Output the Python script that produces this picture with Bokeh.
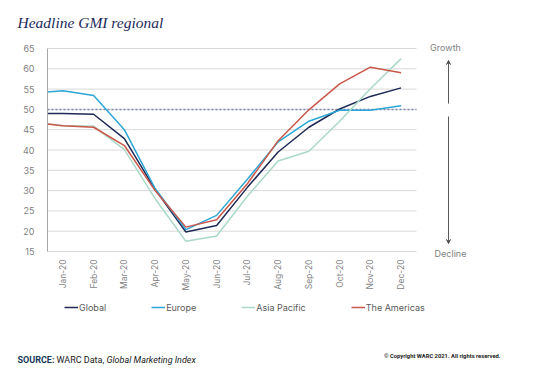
from bokeh.plotting import figure
from bokeh.models import (Range1d, FixedTicker, Label, Arrow, VeeHead,
                          Legend, LegendItem, ColumnDataSource, LinearAxis)
from bokeh.embed import file_html
from bokeh.resources import INLINE

months = ["Jan-20", "Feb-20", "Mar-20", "Apr-20", "May-20", "Jun-20",
          "Jul-20", "Aug-20", "Sep-20", "Oct-20", "Nov-20", "Dec-20"]

# value at the left edge of the plot, then one value per month
global_vals = [49.0, 49.0, 48.8, 42.8, 30.3, 19.8, 21.4, 30.8, 39.5, 45.6, 50.1, 53.2, 55.3]
europe_vals = [54.3, 54.6, 53.4, 45.0, 30.5, 20.4, 23.9, 32.8, 42.0, 47.1, 49.8, 49.8, 50.9]
asia_vals = [46.4, 46.0, 45.9, 40.1, 28.0, 17.5, 18.8, 28.6, 37.3, 39.7, 47.1, 55.1, 62.5]
americas_vals = [46.4, 46.0, 45.6, 41.1, 30.0, 21.0, 22.8, 31.7, 42.3, 49.9, 56.3, 60.4, 59.0]

series_names = ["Global", "Europe", "Asia Pacific", "The Americas"]
series_colors = ["#1e2a55", "#2ba6d6", "#a9d9c7", "#c9574a"]
y_ticks = [15, 20, 25, 30, 35, 40, 45, 50, 55, 60, 65]
threshold = 50

FONT = "Inter"
GREY = "#7f7f7f"

# canvas layout (pixels)
W, H = 550, 376
PLOT_L, PLOT_R, PLOT_T, PLOT_B = 47, 416, 48, 251
n = len(months)
ymin, ymax = y_ticks[0], y_ticks[-1]
px_x = (PLOT_R - PLOT_L) / n
px_y = (PLOT_B - PLOT_T) / (ymax - ymin)
x_range = Range1d(-PLOT_L / px_x, (W - PLOT_L) / px_x)
y_range = Range1d(ymin - (H - PLOT_B) / px_y, ymax + PLOT_T / px_y)

x_pos = [0.0] + [i + 0.5 for i in range(n)]

p = figure(width=W, height=H, output_backend="svg", toolbar_location=None,
           x_range=x_range, y_range=y_range, x_axis_type=None, y_axis_type=None,
           min_border=0)
p.outline_line_color = None
p.background_fill_color = "white"
p.border_fill_color = "white"

# gridlines and threshold
p.segment(x0=[0] * len(y_ticks), x1=[n] * len(y_ticks), y0=y_ticks, y1=y_ticks,
          line_color="#d9d9d9", line_width=1)
p.segment(x0=[0], x1=[n], y0=[threshold], y1=[threshold],
          line_color="#7a8ab3", line_dash="2 2", line_width=1.5)

# axes
yaxis = LinearAxis(fixed_location=0, bounds=(ymin, ymax),
                   ticker=FixedTicker(ticks=y_ticks))
yaxis.major_tick_line_color = None
yaxis.minor_tick_line_color = None
yaxis.axis_line_color = "#a6a6a6"
yaxis.major_label_text_font = FONT
yaxis.major_label_text_font_size = "9px"
yaxis.major_label_text_color = GREY
yaxis.major_label_standoff = 7
p.add_layout(yaxis, "left")

xaxis = LinearAxis(fixed_location=ymin, bounds=(0, n),
                   ticker=FixedTicker(ticks=x_pos[1:]))
xaxis.major_label_overrides = {x: m for x, m in zip(x_pos[1:], months)}
xaxis.major_label_orientation = 1.5708
xaxis.major_tick_line_color = None
xaxis.minor_tick_line_color = None
xaxis.axis_line_color = None
xaxis.major_label_text_font = FONT
xaxis.major_label_text_font_size = "8.5px"
xaxis.major_label_text_color = GREY
xaxis.major_label_standoff = 2
p.add_layout(xaxis, "below")

renderers = []
for name, vals, col in zip(series_names,
                           [global_vals, europe_vals, asia_vals, americas_vals],
                           series_colors):
    src = ColumnDataSource(dict(x=x_pos, y=vals))
    r = p.line("x", "y", source=src, line_color=col, line_width=1.5)
    renderers.append(r)

legend = Legend(items=[LegendItem(label=nm, renderers=[r]) for nm, r in zip(series_names, renderers)],
                orientation="horizontal", location=(64, 63), spacing=45,
                glyph_width=14, glyph_height=12, label_height=12, label_standoff=1,
                padding=0, margin=0, border_line_color=None, background_fill_alpha=0,
                label_text_font=FONT, label_text_font_size="9px", label_text_color="#595959")
p.add_layout(legend, "center")

# title
p.add_layout(Label(x=17, y=354, x_units="screen", y_units="screen",
                   text="Headline GMI regional", text_font="Liberation Serif",
                   text_font_style="italic", text_font_size="15.5px",
                   text_color="#1c2a5a", text_baseline="alphabetic"))

# growth / decline indicator
p.add_layout(Label(x=445, y=329, x_units="screen", y_units="screen", text="Growth",
                   text_font=FONT, text_font_size="9px", text_color=GREY,
                   text_align="center", text_baseline="middle"))
p.add_layout(Label(x=450, y=123, x_units="screen", y_units="screen", text="Decline",
                   text_font=FONT, text_font_size="9px", text_color=GREY,
                   text_align="center", text_baseline="middle"))
p.add_layout(Arrow(x_start=448, y_start=273, x_end=448, y_end=316,
                   start_units="screen", end_units="screen",
                   line_color="#595959", line_width=1,
                   end=VeeHead(size=4, line_color="#595959", line_width=1)))
p.add_layout(Arrow(x_start=448, y_start=260, x_end=448, y_end=133,
                   start_units="screen", end_units="screen",
                   line_color="#595959", line_width=1,
                   end=VeeHead(size=4, line_color="#595959", line_width=1)))

# source / copyright
SRC_FONT = "Roboto"
p.add_layout(Label(x=17, y=17, x_units="screen", y_units="screen", text="SOURCE:",
                   text_font=SRC_FONT, text_font_style="bold", text_font_size="9px",
                   text_color="#16395a", text_baseline="alphabetic"))
p.add_layout(Label(x=56, y=17, x_units="screen", y_units="screen", text="WARC Data,",
                   text_font=SRC_FONT, text_font_size="9px",
                   text_color="#222222", text_baseline="alphabetic"))
p.add_layout(Label(x=106, y=17, x_units="screen", y_units="screen",
                   text="Global Marketing Index",
                   text_font=SRC_FONT, text_font_style="italic", text_font_size="9px",
                   text_color="#222222", text_baseline="alphabetic"))
p.add_layout(Label(x=500, y=21, x_units="screen", y_units="screen",
                   text="\u00a9 Copyright WARC 2021. All rights reserved.",
                   text_font=SRC_FONT, text_font_style="bold", text_font_size="5.8px",
                   text_color="#222222", text_align="right", text_baseline="middle"))

open("out.html", "w").write(file_html(p, INLINE))
